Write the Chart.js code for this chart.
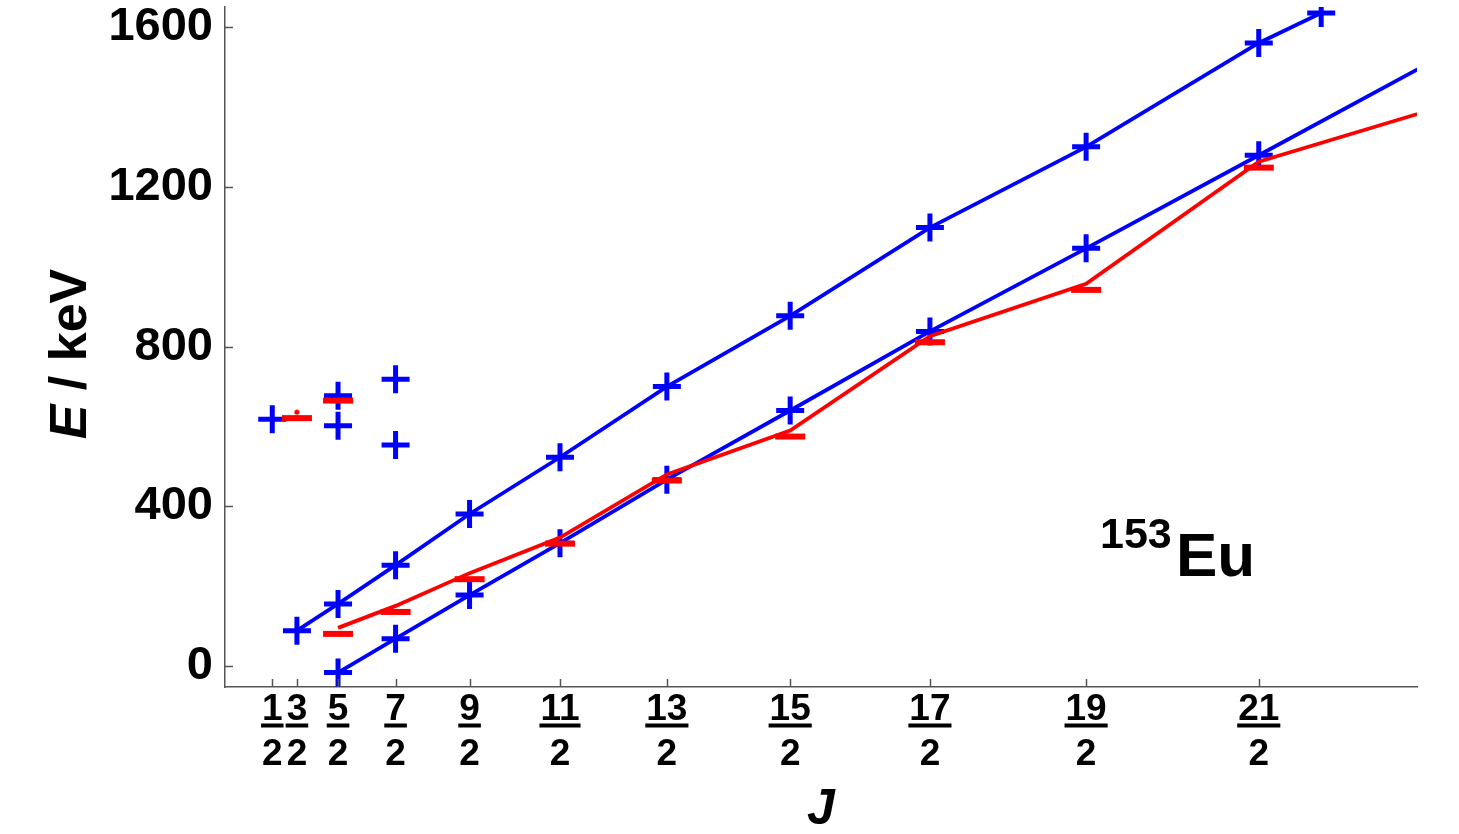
<!DOCTYPE html>
<html>
<head>
<meta charset="utf-8">
<script src="https://cdn.jsdelivr.net/npm/chart.js"></script>
<style>
  html, body { margin: 0; padding: 0; background: #fff; }
  #wrap { width: 1459px; height: 834px; position: relative; }
</style>
</head>
<body>
<div id="wrap"><canvas id="levels"></canvas></div>
<script>
// spins on the axis (x is plotted as J(J+1))
const tickJ = [0.5, 1.5, 2.5, 3.5, 4.5, 5.5, 6.5, 7.5, 8.5, 9.5, 10.5];
const yTicks = [0, 400, 800, 1200, 1600];

// blue band, upper branch
const blueUpperJ = [1.5, 2.5, 3.5, 4.5, 5.5, 6.5, 7.5, 8.5, 9.5, 10.5, 10.84];
const blueUpperE = [89, 156, 253, 381, 523, 700, 877, 1098, 1300, 1560, 1635];
// blue band, lower branch
const blueLowerJ = [2.5, 3.5, 4.5, 5.5, 6.5, 7.5, 8.5, 9.5, 10.5, 11.5];
const blueLowerE = [-16, 69, 178, 308, 467, 640, 838, 1046, 1279, 1535];
// blue single levels
const blueLoneJ = [0.5, 2.5, 2.5, 3.5, 3.5];
const blueLoneE = [618, 677, 602, 718, 554];

// red band
const redJ = [2.5, 3.5, 4.5, 5.5, 6.5, 7.5, 8.5, 9.5, 10.5, 11.5];
const redE = [96, 151, 233, 322, 480, 590, 826, 957, 1263, 1405];
// red single levels
const redLoneJ = [1.5, 2.5];
const redLoneE = [636, 680];

const FONT = '"Liberation Sans", Arial, sans-serif';
const BLUE = "#0000ff";
const RED = "#ff0000";
const AXIS = "#555555";

const jj = (j) => j * (j + 1);
const pts = (js, es) => js.map((j, i) => ({ x: jj(j), y: es[i] }));

// red dash marker (glyph sits a little below the level), optional dot on the level
function makeDash(withDot) {
  const c = document.createElement("canvas");
  c.width = 32;
  c.height = 24;
  const g = c.getContext("2d");
  g.fillStyle = RED;
  g.fillRect(1, 15, 30, 6);
  if (withDot) {
    g.beginPath();
    g.arc(16, 12, 2.6, 0, Math.PI * 2);
    g.fill();
  }
  return c;
}
const dash = makeDash(false);
const dotDash = makeDash(true);

const crossStyle = {
  pointStyle: "cross",
  pointRadius: 14,
  pointHoverRadius: 14,
  pointBorderWidth: 5,
  pointBorderColor: BLUE,
};

const decorations = {
  id: "decorations",
  afterDraw(chart) {
    const { ctx, chartArea: a, scales } = chart;
    const x = scales.x, y = scales.y;
    ctx.save();

    // inward tick marks
    ctx.strokeStyle = AXIS;
    ctx.lineWidth = 1.5;
    ctx.beginPath();
    yTicks.forEach((v) => {
      const py = Math.round(y.getPixelForValue(v)) + 0.5;
      ctx.moveTo(a.left, py);
      ctx.lineTo(a.left + 8, py);
    });
    tickJ.forEach((j) => {
      const px = Math.round(x.getPixelForValue(jj(j))) + 0.5;
      ctx.moveTo(px, a.bottom);
      ctx.lineTo(px, a.bottom - 8);
    });
    ctx.stroke();

    // y tick labels
    ctx.fillStyle = "#000";
    ctx.font = "bold 47px " + FONT;
    ctx.textAlign = "right";
    ctx.textBaseline = "middle";
    yTicks.forEach((v) => {
      ctx.fillText(String(v), a.left - 12, y.getPixelForValue(v));
    });

    // fraction bars under the numerators
    ctx.font = "bold 37px " + FONT;
    tickJ.forEach((j) => {
      const w = ctx.measureText(String(j * 2)).width + 2;
      const px = x.getPixelForValue(jj(j));
      ctx.fillRect(px - w / 2, a.bottom + 36.5, w, 4);
    });

    // x title
    ctx.font = "italic bold 50px " + FONT;
    ctx.textAlign = "center";
    ctx.textBaseline = "alphabetic";
    ctx.fillText("J", (a.left + a.right) / 2, 824);

    // y title, rotated, "E" in italics
    ctx.save();
    ctx.translate(86, 354);
    ctx.rotate(-Math.PI / 2);
    ctx.textAlign = "left";
    ctx.font = "italic bold 52px " + FONT;
    const wE = ctx.measureText("E").width;
    ctx.font = "bold 52px " + FONT;
    const wRest = ctx.measureText(" / keV").width;
    const x0 = -(wE + wRest) / 2;
    ctx.font = "italic bold 52px " + FONT;
    ctx.fillText("E", x0, 0);
    ctx.font = "bold 52px " + FONT;
    ctx.fillText(" / keV", x0 + wE, 0);
    ctx.restore();

    // nucleus label
    ctx.textAlign = "left";
    ctx.font = "bold 43px " + FONT;
    ctx.fillText("153", 1100, 548);
    ctx.font = "bold 62px " + FONT;
    ctx.fillText("Eu", 1176, 576);

    ctx.restore();
  },
};

new Chart(document.getElementById("levels").getContext("2d"), {
  type: "scatter",
  data: {
    datasets: [
      {
        label: "red band",
        data: pts(redJ, redE),
        showLine: true,
        borderColor: RED,
        borderWidth: 3.8,
        pointStyle: dash,
        pointRadius: 12,
      },
      {
        label: "red single",
        data: pts(redLoneJ, redLoneE),
        showLine: false,
        pointStyle: [dotDash, dash],
        pointRadius: 12,
      },
      {
        label: "blue upper",
        data: pts(blueUpperJ, blueUpperE),
        showLine: true,
        borderColor: BLUE,
        borderWidth: 3.8,
        ...crossStyle,
      },
      {
        label: "blue lower",
        data: pts(blueLowerJ, blueLowerE),
        showLine: true,
        borderColor: BLUE,
        borderWidth: 3.8,
        ...crossStyle,
      },
      {
        label: "blue single",
        data: pts(blueLoneJ, blueLoneE),
        showLine: false,
        ...crossStyle,
      },
    ],
  },
  options: {
    responsive: true,
    maintainAspectRatio: false,
    animation: false,
    events: [],
    layout: {
      autoPadding: false,
      padding: { left: 0, right: 42, top: 7, bottom: 0 },
    },
    plugins: {
      legend: { display: false },
      tooltip: { enabled: false },
    },
    scales: {
      x: {
        type: "linear",
        min: -5,
        max: 140,
        afterBuildTicks: (s) => {
          s.ticks = tickJ.map((j) => ({ value: jj(j) }));
        },
        afterFit: (s) => {
          s.height = 147;
          s.paddingLeft = 0;
          s.paddingRight = 0;
        },
        grid: { display: true, drawOnChartArea: false, drawTicks: false },
        border: { display: true, color: AXIS, width: 1.5 },
        ticks: {
          autoSkip: false,
          maxRotation: 0,
          minRotation: 0,
          padding: 0,
          color: "#000",
          font: { family: FONT, size: 37, weight: "bold", lineHeight: 1.216 },
          callback: (v, i) => [String(tickJ[i] * 2), "2"],
        },
      },
      y: {
        type: "linear",
        min: -52,
        max: 1650,
        afterBuildTicks: (s) => {
          s.ticks = yTicks.map((v) => ({ value: v }));
        },
        afterFit: (s) => {
          s.width = 225;
          s.paddingTop = 0;
          s.paddingBottom = 0;
        },
        grid: { display: true, drawOnChartArea: false, drawTicks: false },
        border: { display: true, color: AXIS, width: 1.5 },
        ticks: { display: false },
      },
    },
  },
  plugins: [decorations],
});
</script>
</body>
</html>
